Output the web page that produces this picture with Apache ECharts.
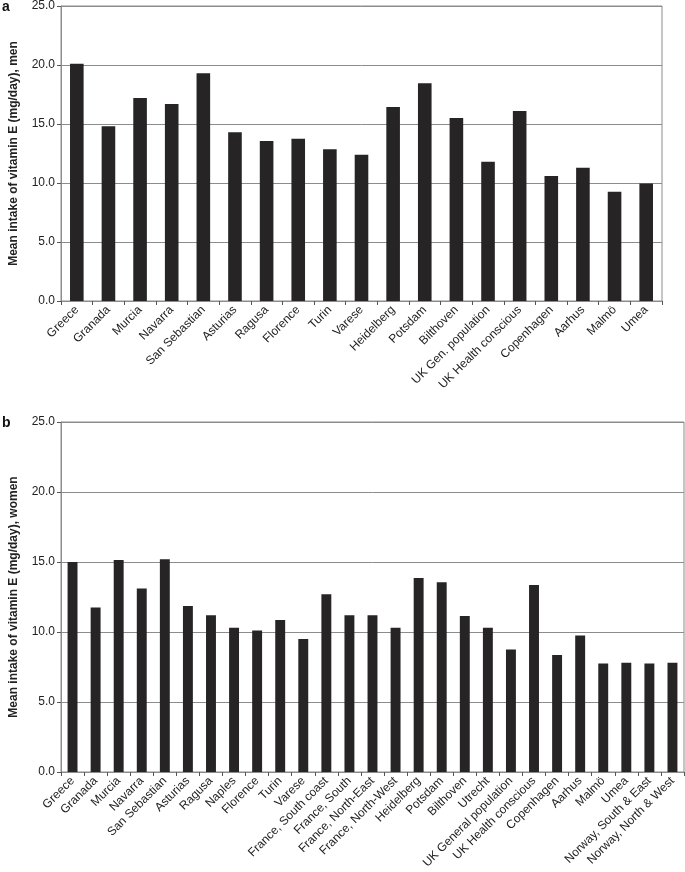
<!DOCTYPE html>
<html>
<head>
<meta charset="utf-8">
<script src="https://cdn.jsdelivr.net/npm/echarts@6/dist/echarts.min.js"></script>
<style>
html,body{margin:0;padding:0;background:#fff;}
#chart{width:685px;height:872px;}
</style>
</head>
<body>
<div id="chart"></div>
<script>
const menCategories = ["Greece","Granada","Murcia","Navarra","San Sebastian","Asturias","Ragusa","Florence","Turin","Varese","Heidelberg","Potsdam","Bilthoven","UK Gen. population","UK Health conscious","Copenhagen","Aarhus","Malmö","Umea"];
const menValues = [20.1,14.8,17.2,16.7,19.3,14.3,13.55,13.75,12.85,12.4,16.45,18.45,15.5,11.8,16.1,10.6,11.3,9.25,9.95];

const womenCategories = ["Greece","Granada","Murcia","Navarra","San Sebastian","Asturias","Ragusa","Naples","Florence","Turin","Varese","France, South coast","France, South","France, North-East","France, North-West","Heidelberg","Potsdam","Bilthoven","Utrecht","UK General population","UK Health conscious","Copenhagen","Aarhus","Malmö","Umea","Norway, South & East","Norway, North & West"];
const womenValues = [15.0,11.75,15.15,13.1,15.2,11.85,11.2,10.3,10.1,10.85,9.5,12.7,11.2,11.2,10.3,13.85,13.55,11.15,10.3,8.75,13.35,8.35,9.75,7.75,7.8,7.75,7.8];

const yTicks = {min:0, max:25, interval:5};

const chart = echarts.init(document.getElementById('chart'));
const font = 'Liberation Sans, Arial, sans-serif';
const gray = '#8c8c8c';

function xAxis(idx, cats){
  return {
    type:'category', gridIndex:idx, data:cats,
    axisLine:{lineStyle:{color:gray,width:1}},
    axisTick:{show:true,length:4,lineStyle:{color:'#555'}},
    axisLabel:{rotate:45,interval:0,fontFamily:font,fontSize:12,color:'#222',margin:7}
  };
}
function yAxis(idx, name){
  return {
    type:'value', gridIndex:idx, min:yTicks.min, max:yTicks.max, interval:yTicks.interval,
    name:name, nameLocation:'middle', nameGap:41,
    nameTextStyle:{fontFamily:font,fontSize:12,fontWeight:'bold',color:'#222'},
    axisLine:{show:true,lineStyle:{color:gray,width:1}},
    axisTick:{show:true,length:4,lineStyle:{color:'#555'}},
    splitLine:{show:true,lineStyle:{color:gray,width:1}},
    axisLabel:{fontFamily:font,fontSize:12,color:'#222',margin:6,formatter:v=>v.toFixed(1)}
  };
}

chart.setOption({
  animation:false,
  backgroundColor:'#fff',
  grid:[
    {left:52,top:6,width:610,height:295,show:true,borderColor:gray,borderWidth:1},
    {left:52,top:422,width:632,height:350,show:true,borderColor:gray,borderWidth:1}
  ],
  xAxis:[xAxis(0,menCategories), xAxis(1,womenCategories)],
  yAxis:[yAxis(0,'Mean intake of vitamin E (mg/day), men'), yAxis(1,'Mean intake of vitamin E (mg/day), women')],
  series:[
    {type:'bar',xAxisIndex:0,yAxisIndex:0,data:menValues,barWidth:'43%',itemStyle:{color:'#262425'}},
    {type:'bar',xAxisIndex:1,yAxisIndex:1,data:womenValues,barWidth:'43%',itemStyle:{color:'#262425'}}
  ],
  graphic:[
    {type:'text',left:2,top:0,style:{text:'a',font:'bold 14px '+font,fill:'#111'}},
    {type:'text',left:2,top:416,style:{text:'b',font:'bold 14px '+font,fill:'#111'}}
  ]
});
</script>
</body>
</html>
